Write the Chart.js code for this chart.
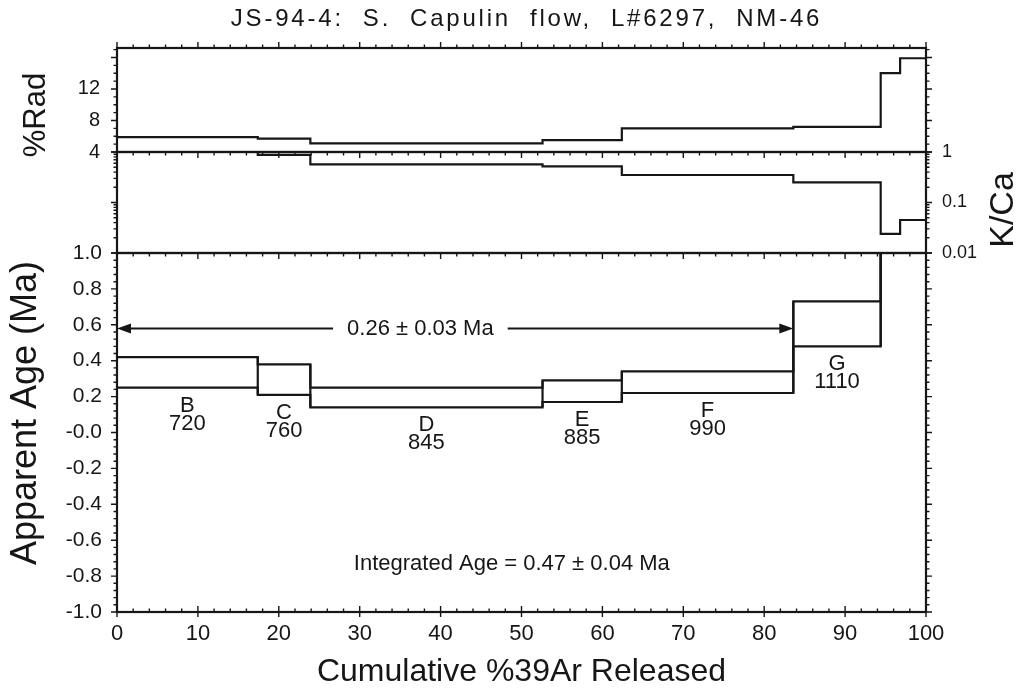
<!DOCTYPE html>
<html>
<head>
<meta charset="utf-8">
<script src="https://cdn.jsdelivr.net/npm/chart.js@4.4.1/dist/chart.umd.min.js"></script>
<style>
  html, body { margin: 0; padding: 0; background: #fff; }
  #wrap { position: relative; width: 1022px; height: 694px; }
  #wrap canvas { position: absolute; left: 0; top: 0; }
</style>
</head>
<body>
<div id="wrap">
  <canvas id="ageChart" width="1022" height="694"></canvas>
  <canvas id="kcaChart" width="1022" height="694"></canvas>
  <canvas id="radChart" width="1022" height="694"></canvas>
</div>
<script>
// heating steps (x = cumulative %39Ar at start of step)
const stepIds   = ["B", "C", "D", "E", "F", "G", "H", "I"];
const stepTemps = [720, 760, 845, 885, 990, 1110, null, null];
const stepStart = [0, 17.4, 23.9, 52.6, 62.4, 83.6, 94.4, 96.8];
const stepEnd   = 100;
const radPct    = [5.9, 5.7, 5.1, 5.5, 7.0, 7.2, 14.0, 15.9];
const kca       = [1.0, 0.88, 0.57, 0.52, 0.35, 0.25, 0.024, 0.045];
const ageHi     = [0.42, 0.38, 0.25, 0.29, 0.34, 0.73, 1.9, 2.1];
const ageLo     = [0.25, 0.21, 0.14, 0.17, 0.22, 0.48, 1.2, 1.4];

// tick labels
const xTicks   = [0, 10, 20, 30, 40, 50, 60, 70, 80, 90, 100];
const radTicks = [4, 8, 12];
const kcaTicks = [0.01, 0.1, 1];
const ageTicks = [-1.0, -0.8, -0.6, -0.4, -0.2, 0, 0.2, 0.4, 0.6, 0.8, 1.0];

// plateau: steps B..F
const plateauFirst = 0, plateauLast = 4;
const plateauLabel = "0.26 \u00b1 0.03 Ma";
const integratedLabel = "Integrated Age = 0.47 \u00b1 0.04 Ma";
const titleText = "JS-94-4:  S.  Capulin  flow,  L#6297,  NM-46";

const ink = "#161616";
const FONT = "'Liberation Sans', Arial, Helvetica, sans-serif";
Chart.defaults.font.family = FONT;
Chart.defaults.color = ink;

function range(from, to, step) {
  const out = [];
  const n = Math.round((to - from) / step);
  for (let i = 0; i <= n; i++) out.push(+(from + i * step).toFixed(6));
  return out;
}
const isMult = (v, m) => Math.abs(v / m - Math.round(v / m)) < 1e-6;

const xMinor = range(0, 100, 2);
const radMinor = range(4, 17, 1);
const ageMinor = range(-1, 1, 0.04);
const kcaMinor = [];
[0.01, 0.1].forEach(d => { for (let k = 1; k <= 9; k++) kcaMinor.push(+(k * d).toFixed(4)); });
kcaMinor.push(1);

function stepPoints(vals) {
  const pts = stepStart.map((x, i) => ({ x, y: vals[i] }));
  pts.push({ x: stepEnd, y: vals[vals.length - 1] });
  return pts;
}

function connectorPoints() {
  const pts = [];
  for (let i = 1; i < stepStart.length; i++) {
    const x = stepStart[i];
    pts.push({ x, y: Math.min(ageLo[i - 1], ageLo[i]) });
    pts.push({ x, y: Math.max(ageHi[i - 1], ageHi[i]) });
    pts.push({ x, y: null });
  }
  return pts;
}

function stepSet(data) {
  return {
    data, stepped: "before", borderColor: ink, borderWidth: 2.2,
    pointRadius: 0, fill: false, spanGaps: false
  };
}

function vText(ctx, text, x, y, font) {
  ctx.save();
  ctx.translate(x, y);
  ctx.rotate(-Math.PI / 2);
  ctx.font = font;
  ctx.textAlign = "center";
  ctx.textBaseline = "middle";
  ctx.fillText(text, 0, 0);
  ctx.restore();
}

function makeDeco(cfg) {
  return {
    id: "deco",
    afterDatasetsDraw(chart) {
      const ctx = chart.ctx, a = chart.chartArea;
      const xs = chart.scales.x, ys = chart.scales.y;
      ctx.save();
      ctx.strokeStyle = ink;
      ctx.fillStyle = ink;
      ctx.lineWidth = 1.4;
      ctx.beginPath();
      xMinor.forEach(v => {
        const px = xs.getPixelForValue(v);
        const major = isMult(v, 10);
        const len = major ? 6 : 3.5;
        if (cfg.xTop) { ctx.moveTo(px, a.top); ctx.lineTo(px, a.top + cfg.xTop * len); }
        if (cfg.xBottom) { ctx.moveTo(px, a.bottom - len); ctx.lineTo(px, a.bottom + (major ? 5 : 0)); }
      });
      cfg.yMinor.forEach(v => {
        const py = ys.getPixelForValue(v);
        const len = cfg.isMajor(v) ? 6 : 3.5;
        ctx.moveTo(a.left, py); ctx.lineTo(a.left - len, py);
        ctx.moveTo(a.right, py); ctx.lineTo(a.right + len, py);
      });
      ctx.stroke();
      ctx.lineWidth = 2.2;
      ctx.strokeRect(a.left, a.top, a.right - a.left, a.bottom - a.top);
      if (cfg.extra) cfg.extra(ctx, chart);
      ctx.restore();
    }
  };
}

const baseOpts = {
  responsive: false, animation: false, devicePixelRatio: 1,
  plugins: { legend: { display: false }, tooltip: { enabled: false } }
};
const hiddenX = { type: "linear", min: 0, max: 100, display: false };

// --- main panel: apparent age spectrum ---
new Chart(document.getElementById("ageChart"), {
  type: "line",
  data: { datasets: [stepSet(stepPoints(ageHi)), stepSet(stepPoints(ageLo)), stepSet(connectorPoints())] },
  options: {
    ...baseOpts,
    layout: { padding: { left: 0, right: 96, top: 253, bottom: 0 } },
    scales: {
      x: {
        type: "linear", position: "bottom", min: 0, max: 100,
        afterBuildTicks: s => { s.ticks = xTicks.map(v => ({ value: v })); },
        afterFit: s => { s.height = 82; },
        grid: { display: false }, border: { display: false },
        ticks: { padding: 1, font: { size: 22 }, maxRotation: 0, autoSkip: false },
        title: { display: true, text: "Cumulative %39Ar Released", font: { size: 32 }, padding: { top: 0, bottom: 3 } }
      },
      y: {
        type: "linear", position: "left", min: -1, max: 1,
        afterBuildTicks: s => { s.ticks = ageTicks.map(v => ({ value: v })); },
        afterFit: s => { s.width = 117; },
        grid: { display: false }, border: { display: false },
        ticks: { padding: 7, font: { size: 21 }, callback: v => (Math.abs(v) < 1e-9 ? "-0.0" : v.toFixed(1)) }
      }
    }
  },
  plugins: [makeDeco({
    xTop: 1, xBottom: true, yMinor: ageMinor, isMajor: v => isMult(v, 0.2),
    extra(ctx, chart) {
      const xs = chart.scales.x, ys = chart.scales.y;
      vText(ctx, "Apparent Age (Ma)", 26, 413, "36px " + FONT);

      // plateau arrow
      const y = ys.getPixelForValue(0.58);
      const x0 = xs.getPixelForValue(stepStart[plateauFirst]);
      const x1 = xs.getPixelForValue(stepStart[plateauLast + 1]);
      const tx = xs.getPixelForValue(37.5);
      ctx.font = "22px " + FONT;
      ctx.textAlign = "center";
      ctx.textBaseline = "middle";
      const half = ctx.measureText(plateauLabel).width / 2 + 14;
      ctx.lineWidth = 2;
      ctx.beginPath();
      ctx.moveTo(x0 + 8, y); ctx.lineTo(tx - half, y);
      ctx.moveTo(tx + half, y); ctx.lineTo(x1 - 8, y);
      ctx.stroke();
      ctx.beginPath();
      ctx.moveTo(x0, y); ctx.lineTo(x0 + 14, y - 5); ctx.lineTo(x0 + 14, y + 5); ctx.closePath();
      ctx.moveTo(x1, y); ctx.lineTo(x1 - 14, y - 5); ctx.lineTo(x1 - 14, y + 5); ctx.closePath();
      ctx.fill();
      ctx.fillText(plateauLabel, tx, y + 1);

      // step labels
      stepIds.forEach((id, i) => {
        if (stepTemps[i] === null) return;
        const end = i + 1 < stepStart.length ? stepStart[i + 1] : stepEnd;
        const cx = xs.getPixelForValue((stepStart[i] + end) / 2);
        const by = ys.getPixelForValue(ageLo[i]);
        ctx.fillText(id, cx, by + 18);
        ctx.fillText(String(stepTemps[i]), cx, by + 36);
      });

      ctx.fillText(integratedLabel, xs.getPixelForValue(48.8), ys.getPixelForValue(-0.73));
    }
  })]
});

// --- middle panel: K/Ca ---
new Chart(document.getElementById("kcaChart"), {
  type: "line",
  data: { datasets: [stepSet(stepPoints(kca))] },
  options: {
    ...baseOpts,
    layout: { padding: { left: 117, right: 0, top: 152, bottom: 441 } },
    scales: {
      x: hiddenX,
      y: {
        type: "logarithmic", position: "right", min: 0.01, max: 1,
        afterBuildTicks: s => { s.ticks = kcaTicks.map(v => ({ value: v })); },
        afterFit: s => { s.width = 96; },
        grid: { display: false }, border: { display: false },
        ticks: { padding: 8, font: { size: 18 }, callback: v => String(v) }
      }
    }
  },
  plugins: [makeDeco({
    xTop: 1, yMinor: kcaMinor, isMajor: v => kcaTicks.includes(v),
    extra(ctx) { vText(ctx, "K/Ca", 1004, 210, "34px " + FONT); }
  })]
});

// --- top panel: %Rad ---
new Chart(document.getElementById("radChart"), {
  type: "line",
  data: { datasets: [stepSet(stepPoints(radPct))] },
  options: {
    ...baseOpts,
    layout: { padding: { left: 0, right: 96, top: 48, bottom: 542 } },
    scales: {
      x: hiddenX,
      y: {
        type: "linear", position: "left", min: 4, max: 17.2,
        afterBuildTicks: s => { s.ticks = radTicks.map(v => ({ value: v })); },
        afterFit: s => { s.width = 117; },
        grid: { display: false }, border: { display: false },
        ticks: { padding: 9, font: { size: 20 }, callback: v => String(v) }
      }
    }
  },
  plugins: [makeDeco({
    xTop: -1, yMinor: radMinor, isMajor: v => isMult(v, 4),
    extra(ctx, chart) {
      const a = chart.chartArea;
      ctx.font = "24px " + FONT;
      ctx.textAlign = "center";
      ctx.textBaseline = "middle";
      ctx.letterSpacing = "2.8px";
      ctx.fillText(titleText, (a.left + a.right) / 2 + 5, 19);
      ctx.letterSpacing = "0px";
      vText(ctx, "%Rad", 36, 115, "31px " + FONT);
    }
  })]
});
</script>
</body>
</html>
